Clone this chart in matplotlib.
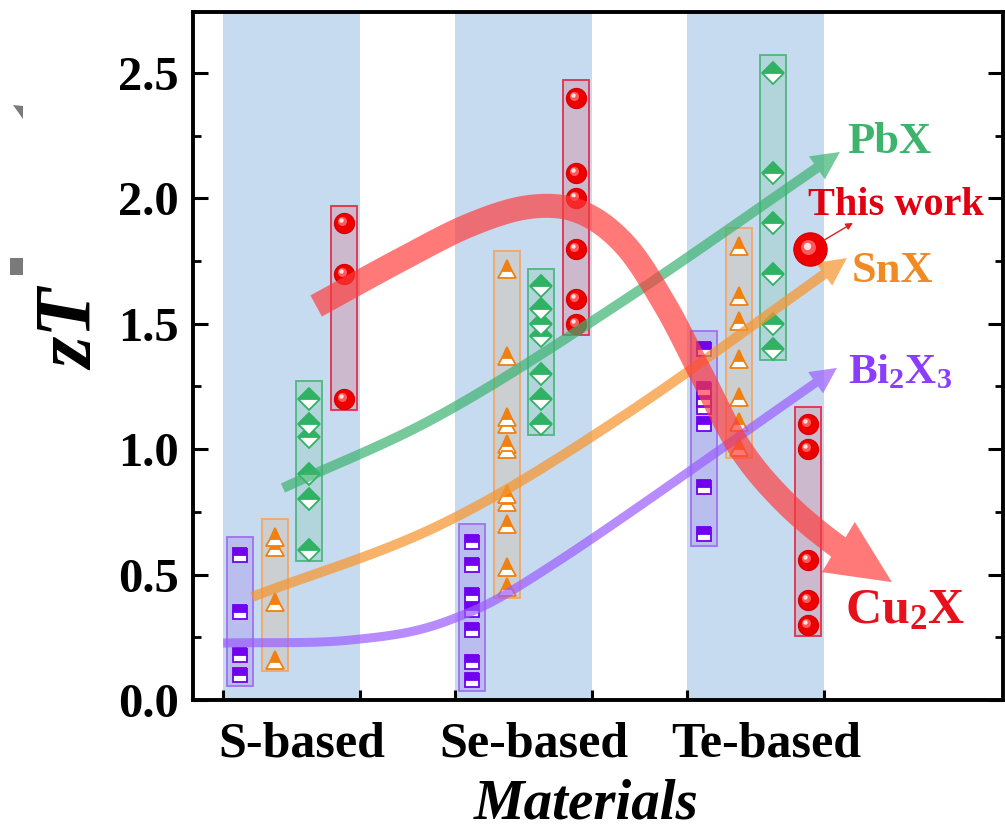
import numpy as np
import matplotlib
matplotlib.use('Agg')
import matplotlib.pyplot as plt
from matplotlib.patches import Rectangle, Polygon
import matplotlib.transforms as mtransforms

# ---------------- data ----------------
categories = ['S-based', 'Se-based', 'Te-based']
bi2x3_zt = [[0.58, 0.35, 0.18, 0.10],
            [0.63, 0.54, 0.42, 0.36, 0.28, 0.15, 0.08],
            [1.40, 1.24, 1.20, 1.17, 1.10, 0.85, 0.66]]
snx_zt = [[0.65, 0.61, 0.39, 0.16],
          [1.72, 1.37, 1.13, 1.10, 1.02, 1.00, 0.82, 0.79, 0.70, 0.53, 0.45],
          [1.81, 1.61, 1.51, 1.36, 1.21, 1.11, 1.01]]
pbx_zt = [[1.20, 1.10, 1.05, 0.90, 0.80, 0.60],
          [1.65, 1.56, 1.50, 1.45, 1.30, 1.20, 1.10],
          [2.50, 2.10, 1.90, 1.70, 1.50, 1.40]]
cu2x_zt = [[1.90, 1.70, 1.20],
           [2.40, 2.10, 2.00, 1.80, 1.60, 1.50],
           [1.10, 1.00, 0.56, 0.40, 0.30]]
this_work_zt = 1.80
this_work_cat = 2
y_ticks = [0.0, 0.5, 1.0, 1.5, 2.0, 2.5]

# trend guide arrows (waypoints, data units)
pbx_trend_x = [0.963, 1.640, 2.416, 3.364]
pbx_trend_y = [0.845, 1.136, 1.583, 2.185]
snx_trend_x = [0.830, 1.640, 2.416, 3.394]
snx_trend_y = [0.411, 0.698, 1.124, 1.762]
bi_trend_x = [0.705, 1.252, 1.683, 2.157, 3.351]
bi_trend_y = [0.227, 0.239, 0.319, 0.558, 1.324]
cu_trend_x = [1.106, 1.468, 1.769, 2.028, 2.244, 2.438, 2.610, 2.761, 2.933, 3.127, 3.351, 3.588]
cu_trend_y = [1.571, 1.754, 1.894, 1.966, 1.946, 1.814, 1.575, 1.308, 1.005, 0.789, 0.614, 0.470]

# ---------------- style ----------------
plt.rcParams['font.family'] = ['Liberation Serif', 'DejaVu Serif']
plt.rcParams['font.weight'] = 'bold'
plt.rcParams['mathtext.fontset'] = 'custom'
plt.rcParams['mathtext.rm'] = 'Liberation Serif:bold'
plt.rcParams['mathtext.bf'] = 'Liberation Serif:bold'
plt.rcParams['mathtext.it'] = 'Liberation Serif:italic:bold'

W, H = 1005, 830
fig = plt.figure(figsize=(W / 100, H / 100), dpi=100)
L, R, T, B = 193, 1003, 12, 700
ax = fig.add_axes([L / W, 1 - B / H, (R - L) / W, (B - T) / H])
ax.set_xlim(0.575, 4.067)
ax.set_ylim(0, 2.743)

band_half = 0.295
col_off = [-0.222, -0.073, 0.076, 0.225]
box_w = 0.112
cat_x = np.arange(1, len(categories) + 1)

for cx in cat_x:
    ax.axvspan(cx - band_half, cx + band_half, color='#c6dbef', zorder=0, lw=0)

series = [
    (bi2x3_zt, 's', '#7000ee', '#a070f0', 10.5),
    (snx_zt, '^', '#f08010', '#f0a868', 13),
    (pbx_zt, 'D', '#2fb263', '#4db87e', 11),
]

for si, (vals, mk, mcol, ecol, ms) in enumerate(series):
    for ci, cx in enumerate(cat_x):
        x = cx + col_off[si]
        v = np.array(vals[ci])
        ax.add_patch(Rectangle((x - box_w / 2, v.min() - 0.045), box_w,
                               v.max() - v.min() + 0.115, facecolor=mcol, alpha=0.13,
                               edgecolor='none', zorder=1))
        ax.add_patch(Rectangle((x - box_w / 2, v.min() - 0.045), box_w,
                               v.max() - v.min() + 0.115, facecolor='none',
                               edgecolor=ecol, lw=1.3, zorder=1.1))
        ax.plot(np.full(len(v), x), v, ls='none', marker=mk, ms=ms,
                mfc=mcol, mfcalt='white', fillstyle='top', mec=mcol, mew=1.3, zorder=2)

# Cu2X spheres
hl1 = mtransforms.offset_copy(ax.transData, fig=fig, x=-2, y=2, units='dots')
hl2 = mtransforms.offset_copy(ax.transData, fig=fig, x=-3, y=3, units='dots')


def spheres(xs, ys, ms, z):
    ax.plot(xs, ys, ls='none', marker='o', ms=ms, mfc='#ee0000', mec='#d00000', mew=0.8, zorder=z)
    ax.plot(xs, ys, ls='none', marker='o', ms=ms * 0.45, mfc='#ff5a5a', mec='none', zorder=z,
            transform=hl1)
    ax.plot(xs, ys, ls='none', marker='o', ms=ms * 0.22, mfc='#ffe0e0', mec='none', zorder=z,
            transform=hl2)


for ci, cx in enumerate(cat_x):
    x = cx + col_off[3]
    v = np.array(cu2x_zt[ci])
    ax.add_patch(Rectangle((x - box_w / 2, v.min() - 0.045), box_w,
                           v.max() - v.min() + 0.115, facecolor='#e8203a', alpha=0.18,
                           edgecolor='none', zorder=1))
    ax.add_patch(Rectangle((x - box_w / 2, v.min() - 0.045), box_w,
                           v.max() - v.min() + 0.115, facecolor='none',
                           edgecolor='#e03048', lw=1.3, zorder=1.1))
    spheres(np.full(len(v), x), v, 14.5, 2)

# ---------------- trend arrows ----------------
def catmull_rom(P, n=40):
    P = np.asarray(P, float)
    ext = np.vstack([2 * P[0] - P[1], P, 2 * P[-1] - P[-2]])
    out = []
    t = np.linspace(0, 1, n, endpoint=False)[:, None]
    for i in range(1, len(ext) - 2):
        p0, p1, p2, p3 = ext[i - 1], ext[i], ext[i + 1], ext[i + 2]
        pts = 0.5 * ((2 * p1) + (-p0 + p2) * t + (2 * p0 - 5 * p1 + 4 * p2 - p3) * t ** 2
                     + (-p0 + 3 * p1 - 3 * p2 + p3) * t ** 3)
        out.append(pts)
    out.append(P[-1:])
    return np.vstack(out)


def trend_arrow(xs, ys, width, head_len, head_half, color, alpha, z):
    pix = ax.transData.transform(np.column_stack([xs, ys]))
    c = catmull_rom(pix)
    d = np.hypot(*np.diff(c, axis=0).T)
    s = np.concatenate([[0], np.cumsum(d)])
    sb = s[-1] - head_len
    body = c[s < sb - 0.5]
    base = np.array([np.interp(sb, s, c[:, 0]), np.interp(sb, s, c[:, 1])])
    body = np.vstack([body, base])
    tip = c[-1]
    tang = np.gradient(body, axis=0)
    tang /= np.hypot(tang[:, 0], tang[:, 1])[:, None]
    nrm = np.column_stack([-tang[:, 1], tang[:, 0]])
    left = body + nrm * width / 2
    right = body - nrm * width / 2
    dv = tip - base
    dv /= np.hypot(*dv)
    hn = np.array([-dv[1], dv[0]])
    poly = np.vstack([left, base + hn * head_half, tip, base - hn * head_half, right[::-1]])
    ax.add_patch(Polygon(ax.transData.inverted().transform(poly), closed=True,
                         facecolor=color, edgecolor='none', alpha=alpha, zorder=z))


trend_arrow(bi_trend_x, bi_trend_y, 9, 26, 13, '#9a5cff', 0.7, 3)
trend_arrow(snx_trend_x, snx_trend_y, 10, 28, 14, '#f7952f', 0.72, 3)
trend_arrow(pbx_trend_x, pbx_trend_y, 10, 28, 14, '#3cb371', 0.7, 3)
trend_arrow(cu_trend_x, cu_trend_y, 24, 64, 30, '#ff3a3a', 0.68, 3.2)

# this work
tw_x = cat_x[this_work_cat] + col_off[3] + 0.01
spheres([tw_x], [this_work_zt], 24, 5)
ax.annotate('', xy=(3.420, 1.902), xytext=(tw_x, this_work_zt),
            arrowprops=dict(arrowstyle='-|>', color='#e02020', lw=1.0, mutation_scale=10,
                            shrinkA=12, shrinkB=0), zorder=5)

# ---------------- labels ----------------
ax.text(3.394, 2.181, 'PbX', color='#3db36b', fontsize=32, fontweight='bold', ha='left', va='baseline', zorder=6)
ax.text(3.226, 1.934, 'This work', color='#e00010', fontsize=29, fontweight='bold', ha='left', va='baseline', zorder=6)
ax.text(3.416, 1.667, 'SnX', color='#f08a25', fontsize=32, fontweight='bold', ha='left', va='baseline', zorder=6)
ax.text(3.399, 1.264, r'$\mathrm{Bi_2X_3}$', color='#8b3dff', fontsize=31, ha='left', va='baseline', zorder=6)
ax.text(3.386, 0.307, r'$\mathrm{Cu_2X}$', color='#e8101a', fontsize=36, ha='left', va='baseline', zorder=6)

# ---------------- axes styling ----------------
for sp in ax.spines.values():
    sp.set_linewidth(2.8)
ax.set_yticks(y_ticks)
ax.set_yticklabels([f'{v:.1f}' for v in y_ticks], fontsize=35, fontweight='bold')
ax.set_yticks(np.arange(0.25, 2.75, 0.5), minor=True)
ax.tick_params(axis='y', which='major', direction='in', length=11, width=2.2, left=True, right=True, pad=10)
ax.tick_params(axis='y', which='minor', direction='in', length=6, width=2.0, left=True, right=True)
edges = np.sort(np.concatenate([cat_x - band_half, cat_x + band_half]))
ax.set_xticks(edges)
ax.tick_params(axis='x', which='major', direction='in', length=7, width=2.2, bottom=True, top=False,
               labelbottom=False)

btrans = mtransforms.blended_transform_factory(ax.transData, fig.transFigure)
for cx, lab in zip(cat_x, categories):
    ax.text(cx + 0.045, 1 - 756 / H, lab, transform=btrans, fontsize=36, fontweight='bold',
            ha='center', va='baseline', clip_on=False)

fig.text(586 / W, 1 - 818 / H, 'Materials', fontsize=41, fontweight='bold', fontstyle='italic',
         ha='center', va='baseline')
fig.text(93 / W, 1 - 330 / H, 'zT', fontsize=58, fontweight='bold', fontstyle='italic',
         rotation=90, rotation_mode='anchor', ha='center', va='baseline')

# small grey crop remnants at left edge
fig.patches.append(Polygon([(13 / W, 1 - 105 / H), (23 / W, 1 - 106 / H), (23 / W, 1 - 119 / H)],
                           closed=True, facecolor='#7a7a7a', edgecolor='none', transform=fig.transFigure))
fig.patches.append(Rectangle((10 / W, 1 - 275 / H), 13 / W, 17 / H, facecolor='#7a7a7a',
                             edgecolor='none', transform=fig.transFigure))

fig.savefig('out.png', dpi=100, facecolor='white')
